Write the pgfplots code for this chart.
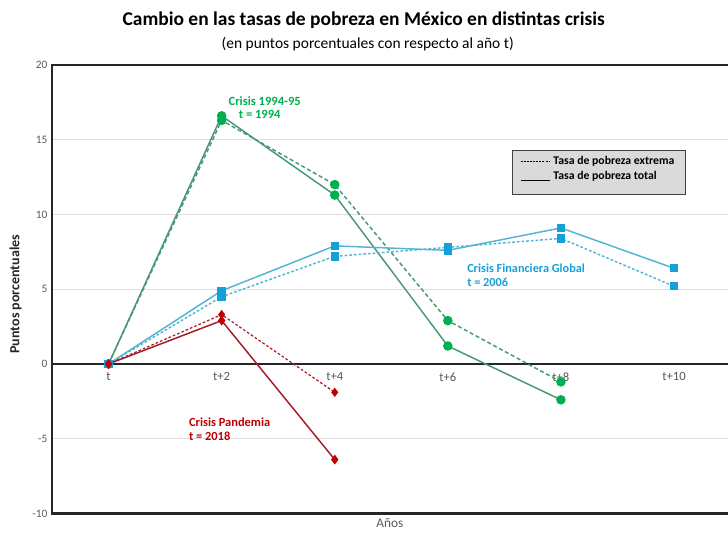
\documentclass[border=0pt]{standalone}
\usepackage{fontspec}
\setmainfont{Carlito}
\usepackage{pgfplots}
\pgfplotsset{compat=1.18}
\usetikzlibrary{calc}

\definecolor{gmark}{RGB}{0,176,80}
\definecolor{gline}{RGB}{72,152,115}
\definecolor{bmark}{RGB}{22,160,218}
\definecolor{bline}{RGB}{84,180,212}
\definecolor{rmark}{RGB}{192,0,0}
\definecolor{rline}{RGB}{165,28,38}
\definecolor{tickgray}{RGB}{89,89,89}
\definecolor{gridgray}{RGB}{222,222,222}
\definecolor{legendgray}{RGB}{218,218,218}

\begin{document}
\begin{tikzpicture}
\begin{axis}[
    scale only axis, width=508.5pt, height=336pt,
    xmin=-0.5, xmax=5.5, ymin=-10, ymax=20,
    axis x line=middle, axis y line=left,
    axis line style={-, line width=1.8pt, draw=black!85},
    hide obscured x ticks=false, hide obscured y ticks=false,
    xtick={0,...,5}, xticklabels={t,t+2,t+4,t+6,t+8,t+10},
    ytick={-10,-5,...,20},
    major tick length=0pt,
    ymajorgrids, grid style={gridgray, line width=0.7pt},
    tick label style={font=\fontsize{8.5}{10}\selectfont, text=tickgray},
    xticklabel style={yshift=-3pt, font=\fontsize{9.5}{10}\selectfont},
    /pgf/number format/assume math mode=true,
    clip=false,
    legend style={at={(rel axis cs:0.678,0.81)}, anchor=north west,
        fill=legendgray, draw=black!75, line width=0.8pt,
        font=\bfseries\fontsize{8.8}{10}\selectfont,
        cells={anchor=west}, inner xsep=6pt, inner ysep=2pt, row sep=0pt},
    legend image code/.code={\draw[#1] (0pt,0pt) -- (22pt,0pt);},
]
\addlegendimage{black, line width=0.6pt, dash pattern=on 1.5pt off 0.8pt}
\addlegendentry{Tasa de pobreza extrema\hspace{16pt}}
\addlegendimage{legend image code/.code={\draw[black, line width=0.6pt] (0pt,-3pt) -- (22pt,-3pt);}}
\addlegendentry{Tasa de pobreza total}
\addlegendimage{empty legend}
\addlegendentry{}

% Crisis 1994-95
\addplot[forget plot, gline, line width=1.1pt, dash pattern=on 3pt off 2pt,
    mark=*, mark size=3pt, mark options={solid, fill=gmark, draw=gmark}]
    coordinates {(0,0) (1,16.3) (2,12.0) (3,2.9) (4,-1.2)};
\addplot[forget plot, gline, line width=1.1pt,
    mark=*, mark size=3pt, mark options={solid, fill=gmark, draw=gmark}]
    coordinates {(0,0) (1,16.6) (2,11.3) (3,1.2) (4,-2.4)};

% Crisis Financiera Global
\addplot[forget plot, bline, line width=1.1pt, dash pattern=on 2pt off 1.5pt,
    mark=square*, mark size=2.6pt, mark options={solid, fill=bmark, draw=bmark}]
    coordinates {(0,0) (1,4.5) (2,7.2) (3,7.8) (4,8.4) (5,5.2)};
\addplot[forget plot, bline, line width=1.1pt,
    mark=square*, mark size=2.6pt, mark options={solid, fill=bmark, draw=bmark}]
    coordinates {(0,0) (1,4.9) (2,7.9) (3,7.6) (4,9.1) (5,6.4)};

% Crisis Pandemia
\addplot[forget plot, rline, line width=0.9pt, dash pattern=on 2pt off 1.5pt,
    mark=diamond*, mark size=2.8pt, mark options={solid, fill=rmark, draw=rmark}]
    coordinates {(0,0) (1,3.3) (2,-1.9)};
\addplot[forget plot, rline, line width=1.1pt,
    mark=diamond*, mark size=2.8pt, mark options={solid, fill=rmark, draw=rmark}]
    coordinates {(0,0) (1,2.9) (2,-6.4)};

\node[anchor=west, text=gmark, font=\bfseries\fontsize{9.4}{10}\selectfont] at (axis cs:1.02,17.6) {Crisis 1994-95};
\node[anchor=west, text=gmark, font=\bfseries\fontsize{9.4}{10}\selectfont] at (axis cs:1.11,16.7) {t = 1994};
\node[anchor=west, text=bmark, font=\bfseries\fontsize{9.2}{10}\selectfont] at (axis cs:3.13,6.43) {Crisis Financiera Global};
\node[anchor=west, text=bmark, font=\bfseries\fontsize{9.2}{10}\selectfont] at (axis cs:3.13,5.43) {t = 2006};
\node[anchor=west, text=rmark, font=\bfseries\fontsize{9.3}{10}\selectfont] at (axis cs:0.67,-3.88) {Crisis Pandemia};
\node[anchor=west, text=rmark, font=\bfseries\fontsize{9.3}{10}\selectfont] at (axis cs:0.67,-4.82) {t = 2018};

\coordinate (bl) at (rel axis cs:0,0);
\coordinate (br) at (rel axis cs:1,0);
\coordinate (tl) at (rel axis cs:0,1);
\coordinate (tr) at (rel axis cs:1,1);
\end{axis}
\draw[line width=1.8pt, black!85] (tr) -- (tl) -- (bl) -- (br);
\node[font=\bfseries\fontsize{10.5}{12}\selectfont, text=black!85, rotate=90] at ($(bl)!0.489!(tl)+(-27.4pt,0)$) {Puntos porcentuales};
\node[font=\fontsize{10}{11}\selectfont, text=tickgray] at ($(bl)!0.498!(br)+(0,-7pt)$) {Años};
\node[font=\bfseries\fontsize{14.6}{16}\selectfont] at ($(tl)+(233.6pt,33.75pt)$) {Cambio en las tasas de pobreza en México en distintas crisis};
\node[font=\fontsize{11.6}{13}\selectfont] at ($(tl)+(236.6pt,15.75pt)$) {(en puntos porcentuales con respecto al año t)};
\pgfresetboundingbox
\path[use as bounding box] ($(bl)+(-39pt,-15.75pt)$) rectangle ($(tr)+(-1.9pt,48.75pt)$);
\end{tikzpicture}
\end{document}
